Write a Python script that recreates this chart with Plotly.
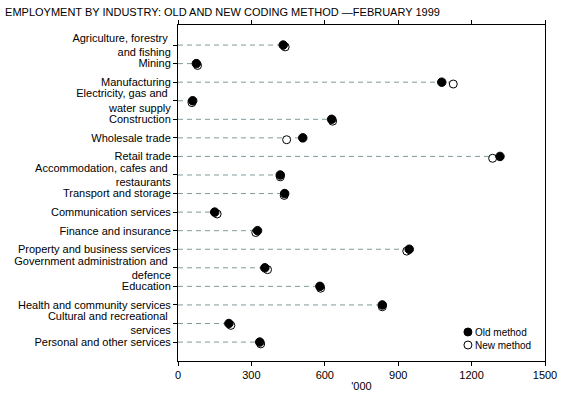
import plotly.graph_objects as go

categories = [
    "Agriculture, forestry <br>and fishing",
    "Mining",
    "Manufacturing",
    "Electricity, gas and <br>water supply",
    "Construction",
    "Wholesale trade",
    "Retail trade",
    "Accommodation, cafes and <br>restaurants",
    "Transport and storage",
    "Communication services",
    "Finance and insurance",
    "Property and business services",
    "Government administration and <br>defence",
    "Education",
    "Health and community services",
    "Cultural and recreational <br>services",
    "Personal and other services",
]
old_method = [430, 75, 1078, 60, 628, 510, 1316, 418, 436, 150, 325, 945, 355, 580, 835, 208, 334]
new_method = [438, 80, 1125, 57, 632, 444, 1286, 418, 434, 160, 318, 935, 366, 583, 835, 216, 338]
x_ticks = [0, 300, 600, 900, 1200, 1500]
legend_labels = ["Old method", "New method"]

idx = list(range(len(categories)))

FONT = "Liberation Sans, Arial, sans-serif"

line_x, line_y = [], []
for i, (o, n) in enumerate(zip(old_method, new_method)):
    line_x += [0, max(o, n), None]
    line_y += [i, i, None]

fig = go.Figure()
fig.add_trace(go.Scatter(
    x=line_x, y=line_y, mode="lines",
    line=dict(color="#7f9c9c", width=1, dash="5px,4px"),
    showlegend=False, hoverinfo="skip",
))
fig.add_trace(go.Scatter(
    x=new_method, y=[i + 0.1 for i in idx], mode="markers", name="New method",
    marker=dict(symbol="circle", size=8, color="white", line=dict(color="black", width=1)),
    showlegend=False,
))
fig.add_trace(go.Scatter(
    x=old_method, y=idx, mode="markers", name="Old method",
    marker=dict(symbol="circle", size=8.5, color="black", line=dict(color="black", width=1)),
    showlegend=False,
))

# manual compact legend
leg_x = 0.790
leg_ys = [0.0863, 0.0476]
leg_fill = ["black", "white"]
for lbl, ly, fc in zip(legend_labels, leg_ys, leg_fill):
    fig.add_shape(type="circle", xref="paper", yref="paper",
                  xsizemode="pixel", ysizemode="pixel",
                  xanchor=leg_x, yanchor=ly, x0=-4, x1=4, y0=-4, y1=4,
                  fillcolor=fc, line=dict(color="black", width=1))
    fig.add_annotation(x=leg_x, y=ly, xref="paper", yref="paper", text=lbl,
                       showarrow=False, xanchor="left", yanchor="middle", xshift=5,
                       font=dict(family=FONT, size=10, color="black"))

fig.update_layout(
    width=564, height=398,
    margin=dict(l=178, r=19, t=25, b=37, autoexpand=False),
    paper_bgcolor="white", plot_bgcolor="white",
    font=dict(family=FONT, size=11, color="black"),
    title=dict(text="EMPLOYMENT BY INDUSTRY: OLD AND NEW CODING METHOD \u2014FEBRUARY 1999",
               x=0.009, xanchor="left", y=0.97, yanchor="middle", automargin=False,
               font=dict(family=FONT, size=11, color="black")),
    showlegend=False,
    xaxis=dict(range=[0, 1500], tickvals=x_ticks, ticktext=[str(v) for v in x_ticks],
               showgrid=False, zeroline=False, showline=True, linecolor="black", linewidth=1,
               mirror="ticks", ticks="outside", ticklen=4, tickcolor="black", automargin=False,
               title=dict(text="'000", font=dict(family=FONT, size=11), standoff=2),
               tickfont=dict(family=FONT, size=11)),
    yaxis=dict(range=[17.02, -1.08], tickvals=idx, ticktext=categories,
               showgrid=False, zeroline=False, showline=True, linecolor="black", linewidth=1,
               mirror=True, ticks="outside", ticklen=4, tickcolor="black", automargin=False,
               tickfont=dict(family=FONT, size=11)),
)

fig.write_html("out.html", config={"displayModeBar": False},
               post_script="document.body.style.margin='0';document.body.style.overflow='hidden';")
